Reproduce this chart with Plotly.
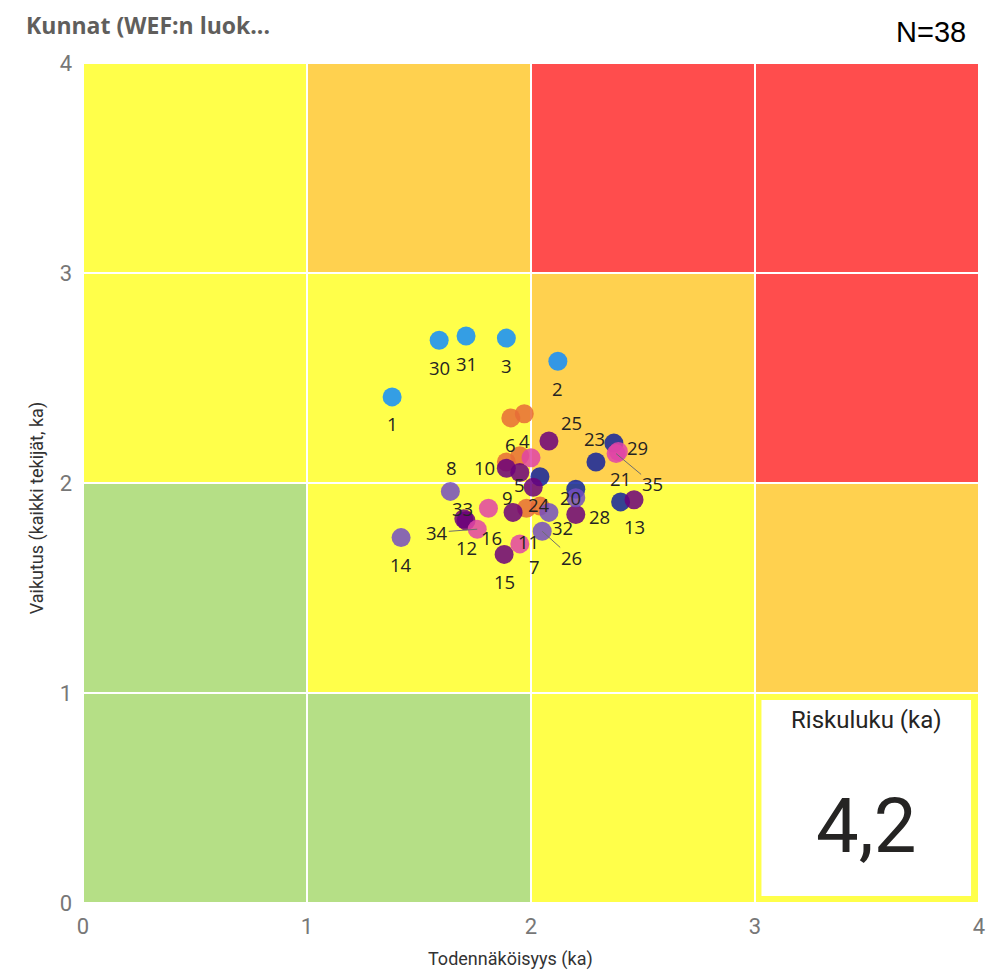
import plotly.graph_objects as go

# ---------------- data ----------------
point_ids = [1, 2, 3, 30, 31,            # group A
             21, 23, 24, 27, 36,          # group B
             4, 6, 10, 17, 37, 38,        # group C
             5, 9, 11, 12, 13, 15, 19, 25, 28, 33,  # group D
             8, 14, 20, 26, 32,           # group E
             7, 16, 18, 29, 34, 35]       # group F
x_vals = [1.38, 2.12, 1.89, 1.59, 1.71,
          2.29, 2.37, 2.04, 2.20, 2.40,
          1.97, 1.91, 1.89, 1.95, 1.98, 2.04,
          1.95, 1.89, 1.92, 1.71, 2.46, 1.88, 2.01, 2.08, 2.20, 1.70,
          1.64, 1.42, 2.20, 2.05, 2.08,
          1.95, 1.81, 2.00, 2.39, 1.76, 2.38]
y_vals = [2.41, 2.58, 2.69, 2.68, 2.70,
          2.10, 2.19, 2.03, 1.97, 1.91,
          2.33, 2.31, 2.10, 2.13, 1.88, 1.89,
          2.05, 2.07, 1.86, 1.82, 1.92, 1.66, 1.98, 2.20, 1.85, 1.83,
          1.96, 1.74, 1.93, 1.77, 1.86,
          1.71, 1.88, 2.12, 2.15, 1.78, 2.14]
groups = ["A"] * 5 + ["B"] * 5 + ["C"] * 6 + ["D"] * 10 + ["E"] * 5 + ["F"] * 6
hidden_labels = [17, 18, 19, 27, 36, 37, 38]

x_ticks = [0, 1, 2, 3, 4]
y_ticks = [0, 1, 2, 3, 4]
# risk matrix cell colours: rows from bottom (y 0-1) to top (y 3-4)
cell_levels = [["G", "G", "Y", "Y"],
               ["G", "Y", "Y", "O"],
               ["Y", "Y", "O", "R"],
               ["Y", "O", "R", "R"]]
card_title = "Riskuluku (ka)"
card_value = "4,2"
n_text = "N=38"

# ---------------- styles ----------------
group_colors = {"A": "#118DFF", "B": "#12239E", "C": "#E66C37",
                "D": "#6B007B", "E": "#744EC2", "F": "#E044A7"}
level_colors = {"G": "#B5DF86", "Y": "#FFFF4A", "O": "#FFD14F", "R": "#FF4D4D"}

# label offsets in pixels (dx right, dy down); default below the marker
label_offsets = {25: (23, -19), 23: (-19, -5), 29: (19, -4), 21: (25, 16),
                 22: (9, 0), 10: (-22, 5), 5: (0, 12), 9: (1, 29), 24: (-1, 28),
                 8: (1, -24), 20: (-5, 0), 28: (24, 2), 32: (14, 15),
                 11: (15, 29), 7: (15, 23), 16: (3, 29), 33: (-1, -10)}
leader_offsets = {34: (-40, 3), 26: (29, 26), 35: (36, 30)}

W, H = 997, 971
L, R, T, B = 83, 12, 63, 68

fig = go.Figure()

# background cells
for r, row in enumerate(cell_levels):
    for c, lev in enumerate(row):
        fig.add_shape(type="rect", x0=c, x1=c + 1, y0=r, y1=r + 1,
                      fillcolor=level_colors[lev], line=dict(color="white", width=2),
                      layer="below")

# points, one trace per group for layering
for g in ["A", "B", "C", "D", "E", "F"]:
    idx = [i for i, gg in enumerate(groups) if gg == g]
    fig.add_trace(go.Scatter(
        x=[x_vals[i] for i in idx], y=[y_vals[i] for i in idx],
        mode="markers", showlegend=False, hoverinfo="skip",
        marker=dict(size=19, color=group_colors[g], opacity=0.85, line=dict(width=0))))

label_font = dict(family="Open Sans, Noto Sans, sans-serif", size=18.5, color="#252423")
for pid, xv, yv in zip(point_ids, x_vals, y_vals):
    if pid in hidden_labels:
        continue
    if pid in leader_offsets:
        ax, ay = leader_offsets[pid]
        fig.add_annotation(x=xv, y=yv, text=str(pid), showarrow=True, ax=ax, ay=ay,
                           arrowhead=0, arrowwidth=1, arrowcolor="#6E6E6E", standoff=0,
                           font=label_font, borderpad=0)
    else:
        dx, dy = label_offsets.get(pid, (0, 27))
        fig.add_annotation(x=xv, y=yv, text=str(pid), showarrow=False,
                           xshift=dx, yshift=-dy, font=label_font)

# card (KPI visual)
px2x = lambda px: (px - L) / (W - L - R) * 4
py2y = lambda py: (H - B - py) / (H - T - B) * 4
fig.add_shape(type="rect", x0=px2x(766), x1=px2x(977), y0=py2y(896), y1=py2y(700),
              fillcolor="white", line=dict(width=0), layer="above")
fig.add_annotation(x=px2x(872), y=py2y(720), text=card_title, showarrow=False,
                   font=dict(family="Roboto, sans-serif", size=24, color="#252423"))
fig.add_annotation(x=px2x(871), y=py2y(826), text=card_value, showarrow=False,
                   font=dict(family="Roboto, sans-serif", size=76, color="#252423"))

# titles
fig.add_annotation(xref="paper", yref="paper", x=(24 - L) / (W - L - R), y=(H - B - 25) / (H - T - B),
                   xanchor="left", yanchor="middle", showarrow=False,
                   text="<b>Kunnat (WEF:n luok...</b>",
                   font=dict(family="Open Sans, sans-serif", size=23, color="#605E5C"))
fig.add_annotation(xref="paper", yref="paper", x=(974 - L) / (W - L - R), y=(H - B - 32) / (H - T - B),
                   xanchor="right", yanchor="middle", showarrow=False, text=n_text,
                   font=dict(family="Liberation Sans, Arial, sans-serif", size=29, color="#000000"))
fig.add_annotation(xref="paper", yref="paper", x=(513 - L) / (W - L - R), y=(H - B - 959) / (H - T - B),
                   xanchor="center", yanchor="middle", showarrow=False, text="Todennäköisyys (ka)",
                   font=dict(family="Roboto, sans-serif", size=18, color="#333333"))
fig.add_annotation(xref="paper", yref="paper", x=(37 - L) / (W - L - R), y=(H - B - 508) / (H - T - B),
                   xanchor="center", yanchor="middle", showarrow=False, textangle=-90,
                   text="Vaikutus (kaikki tekijät, ka)",
                   font=dict(family="Roboto, sans-serif", size=18, color="#333333"))

tick_font = dict(family="Roboto, sans-serif", size=22, color="#777777")
fig.update_xaxes(range=[0, 4], tickvals=x_ticks, ticktext=[str(t) for t in x_ticks],
                 showgrid=True, gridcolor="white", griddash="dot", gridwidth=1.5,
                 zeroline=False, showline=False, ticks="", tickfont=tick_font,
                 ticklabelstandoff=8, fixedrange=True)
fig.update_yaxes(range=[0, 4], tickvals=y_ticks, ticktext=[str(t) for t in y_ticks],
                 showgrid=True, gridcolor="white", griddash="dot", gridwidth=1.5,
                 zeroline=False, showline=False, ticks="", tickfont=tick_font,
                 ticklabelstandoff=10, fixedrange=True)

fig.update_layout(width=W, height=H, margin=dict(l=L, r=R, t=T, b=B),
                  paper_bgcolor="white", plot_bgcolor="white", showlegend=False)

fig.write_html("out.html")
